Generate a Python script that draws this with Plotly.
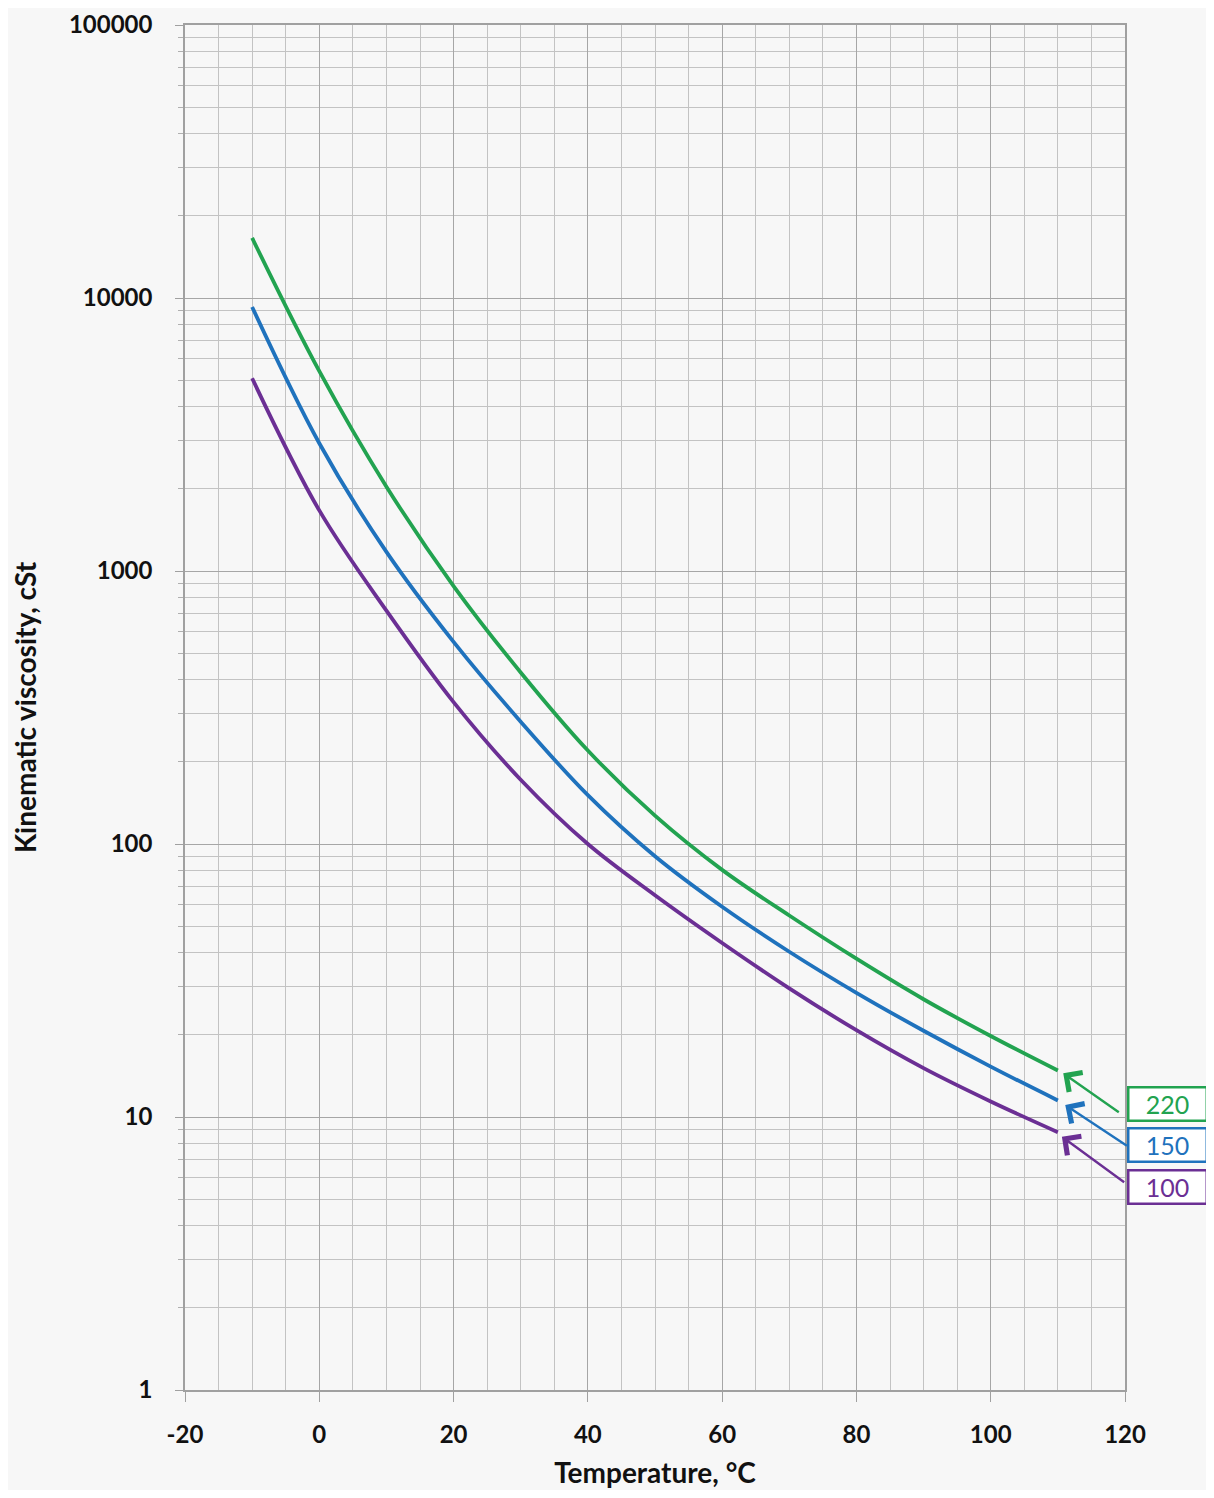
import plotly.graph_objects as go
import math

temps = [-10, 0, 10, 20, 30, 40, 50, 60, 70, 80, 90, 100, 110]

vg220 = [16600, 5395, 2037, 881, 425, 220, 127, 80.4, 54.7, 38.0, 27.0, 19.8, 14.8]
vg150 = [9270, 2938, 1175, 550, 280.5, 151, 90.2, 58.9, 40.3, 28.5, 20.7, 15.3, 11.5]
vg100 = [5080, 1667, 716, 331, 172, 100, 64.9, 43.4, 29.6, 20.8, 15.1, 11.4, 8.8]

x_ticks = [-20, 0, 20, 40, 60, 80, 100, 120]
x_ticktext = ["-20", "0", "20", "40", "60", "80", "100", "120"]
y_ticks = [1, 10, 100, 1000, 10000, 100000]
y_ticktext = ["1", "10", "100", "1000", "10000", "100000"]

grades = ["220", "150", "100"]
colors = ["#22a350", "#1f72bd", "#6b2f94"]
series = [vg220, vg150, vg100]

# arrow heads / tails (temperature, viscosity) and label positions
arrow_head = [(110.8, 14.45), (111.1, 11.07), (110.6, 8.47)]
arrow_tail = [(119.3, 10.32), (120.5, 7.78), (120.1, 5.71)]
label_y_paper = [0.2095, 0.1795, 0.1487]

BG = "#f7f7f7"
FONT = "Lato"

fig = go.Figure()
for name, vals, col in zip(grades, series, colors):
    fig.add_trace(go.Scatter(
        x=temps, y=vals, mode="lines", name=name,
        line=dict(color=col, width=3.8, shape="spline", smoothing=1.0),
        showlegend=False,
    ))

for name, col, head, tail, ly in zip(grades, colors, arrow_head, arrow_tail, label_y_paper):
    fig.add_annotation(
        x=head[0], y=math.log10(head[1]), xref="x", yref="y",
        ax=tail[0], ay=math.log10(tail[1]), axref="x", ayref="y",
        text="", showarrow=True, arrowhead=4, arrowsize=1.9,
        arrowwidth=2.4, arrowcolor=col, standoff=0,
    )
    fig.add_annotation(
        x=1.002, y=ly, xref="paper", yref="paper",
        xanchor="left", yanchor="middle",
        text=name, showarrow=False,
        font=dict(family=FONT, size=25, color=col),
        bordercolor=col, borderwidth=2.5, borderpad=2,
        bgcolor="#ffffff", width=72, height=27,
    )

grid_major = "#a6a6a6"
grid_minor = "#c3c3c3"

fig.update_layout(
    width=1198, height=1482,
    margin=dict(l=177, r=81, t=17, b=100, autoexpand=False),
    paper_bgcolor=BG, plot_bgcolor=BG,
    font=dict(family=FONT, color="#111111"),
    xaxis=dict(
        range=[-20, 120], automargin=False,
        tickvals=x_ticks, ticktext=x_ticktext,
        showgrid=True, gridcolor=grid_major, gridwidth=1.4,
        showline=True, linecolor="#a0a0a0", linewidth=1.5, mirror=True,
        ticks="outside", ticklen=10, tickcolor="#a0a0a0",
        tickfont=dict(family=FONT, size=24, weight="bold", color="#111111"),
        ticklabelstandoff=12,
        minor=dict(dtick=5, tick0=0, showgrid=True, gridcolor=grid_minor, gridwidth=1.2,
                   ticks=""),
        zeroline=False,
        title=dict(text="Temperature, °C", standoff=17,
                   font=dict(family=FONT, size=28, weight="bold", color="#111111")),
    ),
    yaxis=dict(
        type="log", range=[0, 5], automargin=False,
        tickvals=y_ticks, ticktext=y_ticktext,
        showgrid=True, gridcolor=grid_major, gridwidth=1.4,
        showline=True, linecolor="#a0a0a0", linewidth=1.5, mirror=True,
        ticks="outside", ticklen=8, tickcolor="#a0a0a0",
        tickfont=dict(family=FONT, size=24, weight="bold", color="#111111"),
        ticklabelstandoff=18,
        minor=dict(dtick="D1", showgrid=True, gridcolor=grid_minor, gridwidth=1.2,
                   ticks="outside", ticklen=5, tickcolor="#b0b0b0"),
        zeroline=False,
        title=dict(text="Kinematic viscosity, cSt", standoff=24,
                   font=dict(family=FONT, size=28, weight="bold", color="#111111")),
    ),
)

fig.write_html("out.html")
